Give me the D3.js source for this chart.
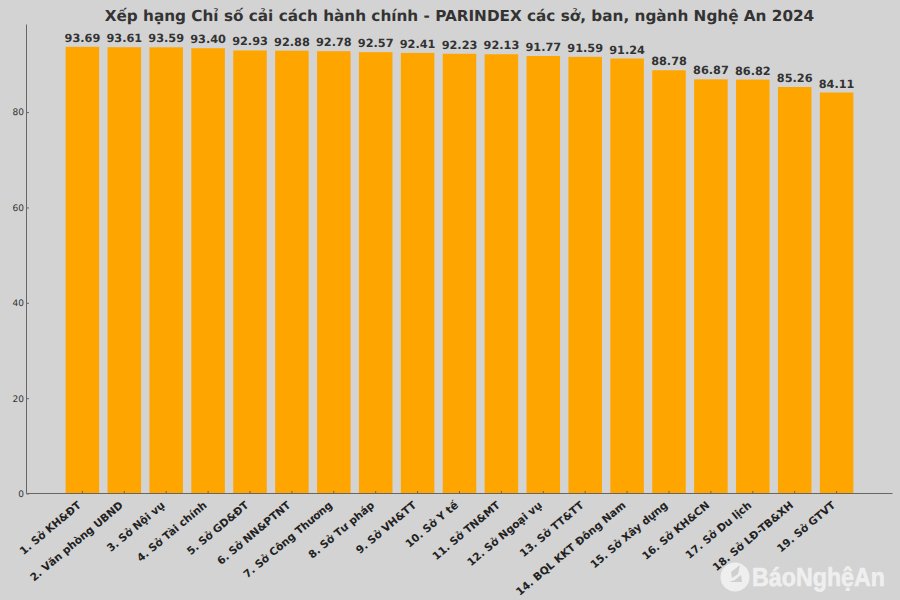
<!DOCTYPE html>
<html>
<head>
    <meta charset="utf-8">
    <script src="https://cdn.jsdelivr.net/npm/d3@7" type="text/javascript"></script>
    <style>
        body {
            margin: 0;
            background: #d3d3d3;
        }
        svg text {
            font-family: "DejaVu Sans", sans-serif;
            text-rendering: geometricPrecision;
        }
        .title {
            font-size: 15.25px;
            font-weight: bold;
            fill: #333;
        }
        .value {
            font-size: 11.3px;
            font-weight: bold;
            fill: #333;
        }
        .axis-y text {
            font-size: 9px;
            fill: #333;
        }
        .axis-x text {
            font-size: 10.6px;
            font-weight: bold;
            fill: #222;
        }
        .axis-x line, .axis-y line, .axis-x path, .axis-y path {
            stroke: #666;
        }
        svg text.logo-text {
            font-family: "Liberation Sans Narrow", "Liberation Sans", sans-serif;
            font-size: 26px;
            font-weight: bold;
            fill: #efefef;
            stroke: #efefef;
            stroke-width: 0.6px;
        }
    </style>
</head>
<body>
<script>
    // labels and scores
    var departments = [
        "1. Sở KH&ĐT", "2. Văn phòng UBND", "3. Sở Nội vụ", "4. Sở Tài chính", "5. Sở GD&ĐT",
        "6. Sở NN&PTNT", "7. Sở Công Thương", "8. Sở Tư pháp", "9. Sở VH&TT", "10. Sở Y tế",
        "11. Sở TN&MT", "12. Sở Ngoại vụ", "13. Sở TT&TT", "14. BQL KKT Đông Nam", "15. Sở Xây dựng",
        "16. Sở KH&CN", "17. Sở Du lịch", "18. Sở LĐ-TB&XH", "19. Sở GTVT"
    ];
    var scores = [
        93.69, 93.61, 93.59, 93.40, 92.93, 92.88, 92.78, 92.57, 92.41, 92.23,
        92.13, 91.77, 91.59, 91.24, 88.78, 86.87, 86.82, 85.26, 84.11
    ];
    var yTicks = [0, 20, 40, 60, 80];
    var chartTitle = "Xếp hạng Chỉ số cải cách hành chính - PARINDEX các sở, ban, ngành Nghệ An 2024";

    var width = 900, height = 600;
    // plot area edges
    var plotLeft = 26.5, plotRight = 892.5, plotTop = 24.5, plotBottom = 493.5;

    var svg = d3.select("body").append("svg")
        .attr("width", width)
        .attr("height", height)
        .style("display", "block");

    var x = d3.scaleBand()
        .domain(departments)
        .range([plotLeft, plotRight])
        .paddingInner(0.2)
        .paddingOuter(0.934);
    var y = d3.scaleLinear()
        .domain([0, d3.max(scores) * 1.05])
        .range([plotBottom, plotTop]);

    svg.append("text")
        .attr("class", "title")
        .attr("x", 459.5)
        .attr("y", 20.5)
        .attr("text-anchor", "middle")
        .text(chartTitle);

    // bars
    svg.selectAll(".bar")
        .data(scores)
        .enter()
        .append("rect")
        .attr("class", "bar")
        .attr("x", function (d, i) { return x(departments[i]); })
        .attr("y", function (d) { return y(d); })
        .attr("width", x.bandwidth())
        .attr("height", function (d) { return plotBottom - y(d); })
        .attr("fill", "#ffa500");

    // value labels
    svg.selectAll(".value")
        .data(scores)
        .enter()
        .append("text")
        .attr("class", "value")
        .attr("x", function (d, i) { return x(departments[i]) + x.bandwidth() / 2; })
        .attr("y", function (d) { return y(d) - 5; })
        .attr("text-anchor", "middle")
        .text(function (d) { return d.toFixed(2); });

    // y axis, ticks point inward
    var axisY = d3.axisLeft(y).tickValues(yTicks).tickSize(-2.5).tickPadding(2.5);
    var gy = svg.append("g")
        .attr("class", "axis-y")
        .attr("transform", "translate(" + plotLeft + ",0)")
        .call(axisY);
    gy.select(".domain").attr("d", "M0," + plotTop + "V" + plotBottom);

    // x axis with rotated labels
    var axisX = d3.axisBottom(x).tickSize(-2.5).tickPadding(0);
    var gx = svg.append("g")
        .attr("class", "axis-x")
        .attr("transform", "translate(0," + plotBottom + ")")
        .call(axisX);
    gx.select(".domain").attr("d", "M" + plotLeft + ",0H" + plotRight);
    gx.selectAll("text")
        .attr("text-anchor", "end")
        .attr("dy", "0.35em")
        .attr("y", 0)
        .attr("transform", "translate(-3,10) rotate(-40)");

    // watermark
    var logo = svg.append("g").attr("class", "logo");
    logo.append("circle")
        .attr("cx", 735)
        .attr("cy", 577)
        .attr("r", 14.5)
        .attr("fill", "#efefef");
    logo.append("path")
        .attr("d", "M731,572 L740,565 L738,574 L732,578 Z M729,582 L742,582 L741,575 L735,580 Z")
        .attr("fill", "#cfcfcf");
    logo.append("text")
        .attr("class", "logo-text")
        .attr("x", 752)
        .attr("y", 585.5)
        .attr("textLength", 133)
        .attr("lengthAdjust", "spacingAndGlyphs")
        .text("BáoNghệAn");
</script>
</body>
</html>
